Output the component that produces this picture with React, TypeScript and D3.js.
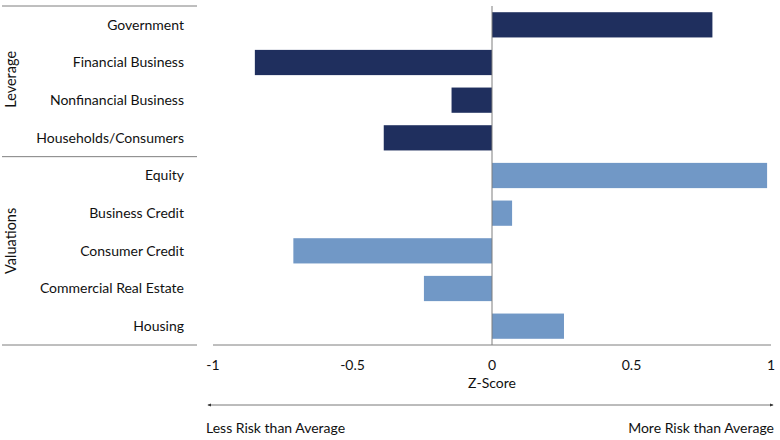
import * as d3 from "d3";
import * as React from "react";

const leverageCats = ["Government", "Financial Business", "Nonfinancial Business", "Households/Consumers"];
const leverageVals = [0.79, -0.85, -0.145, -0.388];
const valuationCats = ["Equity", "Business Credit", "Consumer Credit", "Commercial Real Estate", "Housing"];
const valuationVals = [0.986, 0.072, -0.712, -0.244, 0.258];
const xTicks = [-1, -0.5, 0, 0.5, 1];
const xTickLabels = ["-1", "-0.5", "0", "0.5", "1"];

const navy = "#1f2f5e";
const lightBlue = "#7198c6";
const gray = "#7f7f7f";
const textColor = "#111";
const font = "Lato, 'Noto Sans', sans-serif";

interface Row {
  cat: string;
  value: number;
  group: string;
}

export default function App() {
  const width = 780;
  const height = 440;
  const plotTop = 6;
  const plotBottom = 345;
  const plotLeft = 213;
  const plotRight = 771;

  const rows: Row[] = [
    ...leverageCats.map((c, i) => ({ cat: c, value: leverageVals[i], group: "Leverage" })),
    ...valuationCats.map((c, i) => ({ cat: c, value: valuationVals[i], group: "Valuations" })),
  ];

  const x = d3.scaleLinear([-1, 1], [plotLeft, plotRight]);
  const y = d3
    .scaleBand<string>()
    .domain(rows.map((d) => d.cat))
    .range([plotTop, plotBottom])
    .paddingInner(0.33)
    .paddingOuter(0.165);

  const step = y.step();
  const sepY = plotTop + leverageCats.length * step;

  return (
    <svg
      width={width}
      height={height}
      viewBox={`0 0 ${width} ${height}`}
      style={{ position: "absolute", left: 0, top: 0, fontFamily: font }}
    >
      <defs>
        <marker id="arrowR" viewBox="0 0 6 6" refX="5" refY="3" markerWidth="5" markerHeight="5" orient="auto">
          <path d="M0,0.5 L6,3 L0,5.5 Z" fill="#333" />
        </marker>
        <marker id="arrowL" viewBox="0 0 6 6" refX="1" refY="3" markerWidth="5" markerHeight="5" orient="auto">
          <path d="M6,0.5 L0,3 L6,5.5 Z" fill="#333" />
        </marker>
      </defs>

      {/* bars */}
      {rows.map((d) => (
        <rect
          key={d.cat}
          x={x(Math.min(0, d.value))}
          y={y(d.cat)}
          width={Math.abs(x(d.value) - x(0))}
          height={y.bandwidth()}
          fill={d.group === "Leverage" ? navy : lightBlue}
        />
      ))}

      {/* category labels */}
      {rows.map((d) => (
        <text
          key={d.cat}
          x={184}
          y={(y(d.cat) ?? 0) + y.bandwidth() / 2}
          dy="0.35em"
          textAnchor="end"
          fontSize={14}
          fill={textColor}
        >
          {d.cat}
        </text>
      ))}

      {/* group separators */}
      <line x1={2} x2={197} y1={plotTop} y2={plotTop} stroke={gray} />
      <line x1={2} x2={197} y1={sepY} y2={sepY} stroke={gray} />
      <line x1={2} x2={197} y1={plotBottom} y2={plotBottom} stroke={gray} />

      {/* group labels */}
      <text transform={`translate(16,${(plotTop + sepY) / 2 - 2}) rotate(-90)`} textAnchor="middle" fontSize={14.5} fill={textColor}>
        Leverage
      </text>
      <text transform={`translate(16,${(sepY + plotBottom) / 2 - 10}) rotate(-90)`} textAnchor="middle" fontSize={14.5} fill={textColor}>
        Valuations
      </text>

      {/* zero line and x axis */}
      <line x1={x(0)} x2={x(0)} y1={plotTop} y2={plotBottom} stroke={gray} />
      <line x1={plotLeft} x2={plotRight} y1={plotBottom} y2={plotBottom} stroke={gray} />
      {xTicks.map((t, i) => (
        <text key={t} x={x(t)} y={365} dy="0.35em" textAnchor="middle" fontSize={14} fill={textColor}>
          {xTickLabels[i]}
        </text>
      ))}
      <text x={x(0)} y={383} dy="0.35em" textAnchor="middle" fontSize={14} fill={textColor}>
        Z-Score
      </text>

      {/* risk arrow */}
      <line
        x1={208}
        x2={773}
        y1={405}
        y2={405}
        stroke="#555"
        strokeWidth={0.8}
        markerStart="url(#arrowL)"
        markerEnd="url(#arrowR)"
      />
      <text x={206} y={428} dy="0.35em" textAnchor="start" fontSize={14} fill={textColor}>
        Less Risk than Average
      </text>
      <text x={774} y={428} dy="0.35em" textAnchor="end" fontSize={14} fill={textColor}>
        More Risk than Average
      </text>
    </svg>
  );
}
